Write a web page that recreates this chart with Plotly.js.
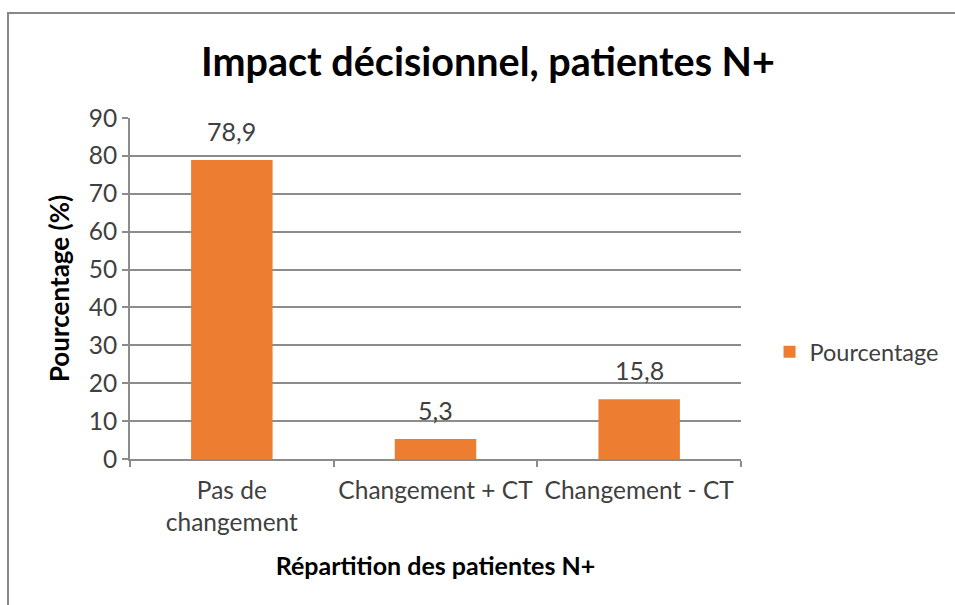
<!DOCTYPE html>
<html>
<head>
<meta charset="utf-8">
<script src="https://cdn.plot.ly/plotly-3.0.1.min.js"></script>
<style>
html,body{margin:0;padding:0;background:#fff;}
#wrap{position:relative;width:955px;height:605px;overflow:hidden;}
#chart{position:absolute;left:0;top:0;width:955px;height:605px;}
#frame{position:absolute;left:7px;top:12px;width:960px;height:700px;border-top:2px solid #888;border-left:2px solid #888;pointer-events:none;}
</style>
</head>
<body>
<div id="wrap"><div id="chart"></div><div id="frame"></div></div>
<script>
const categories = ["Pas de<br>changement", "Changement + CT", "Changement - CT"];
const values = [78.9, 5.3, 15.8];
const valueLabels = ["78,9", "5,3", "15,8"];
const seriesName = "Pourcentage";

const FONT = "Lato, 'Open Sans', sans-serif";
const trace = {
  type: "bar",
  x: categories,
  y: values,
  name: seriesName,
  marker: {color: "#ED7D31"},
  hoverinfo: "skip"
};
const annotations = categories.map((c, i) => ({
  x: c, y: values[i], xref: "x", yref: "y",
  text: valueLabels[i], showarrow: false,
  yanchor: "bottom", yshift: 12,
  font: {family: FONT, size: 25, color: "#404040"}
}));
const layout = {
  width: 955, height: 605,
  margin: {l: 130, r: 213, t: 118, b: 146},
  paper_bgcolor: "#fff", plot_bgcolor: "#fff",
  bargap: 0.6,
  showlegend: true,
  annotations: annotations,
  legend: {x: 1.045, xanchor: "left", y: 0.314, yanchor: "middle",
           font: {family: FONT, size: 23.5, color: "#404040"}, itemwidth: 30},
  title: {text: "<b>Impact décisionnel, patientes N+</b>", font: {family: FONT, size: 39.5, color: "#000"},
          x: 0.511, xref: "container", xanchor: "center", y: 0.897, yanchor: "middle"},
  xaxis: {
    showline: true, linecolor: "#8c8c8c", linewidth: 2,
    ticks: "outside", tickson: "boundaries", ticklen: 6, tickcolor: "#8c8c8c", tickwidth: 2,
    tickangle: 0,
    tickfont: {family: FONT, size: 24.5, color: "#404040"},
    ticklabelstandoff: 9,
    title: {text: "<b>Répartition des patientes N+</b>", font: {family: FONT, size: 25, color: "#000"}, standoff: 22},
    showgrid: false, automargin: false
  },
  yaxis: {
    range: [0, 90], dtick: 10, tick0: 0,
    showline: true, linecolor: "#8c8c8c", linewidth: 2,
    ticks: "outside", ticklen: 6, tickcolor: "#8c8c8c", tickwidth: 2,
    showgrid: true, gridcolor: "#8c8c8c", gridwidth: 2,
    zeroline: false, automargin: false,
    tickfont: {family: FONT, size: 24.5, color: "#404040"},
    title: {text: "<b>Pourcentage (%)</b>", font: {family: FONT, size: 26, color: "#000"}, standoff: 12}
  }
};
Plotly.newPlot("chart", [trace], layout, {displayModeBar: false, staticPlot: true});
</script>
</body>
</html>
